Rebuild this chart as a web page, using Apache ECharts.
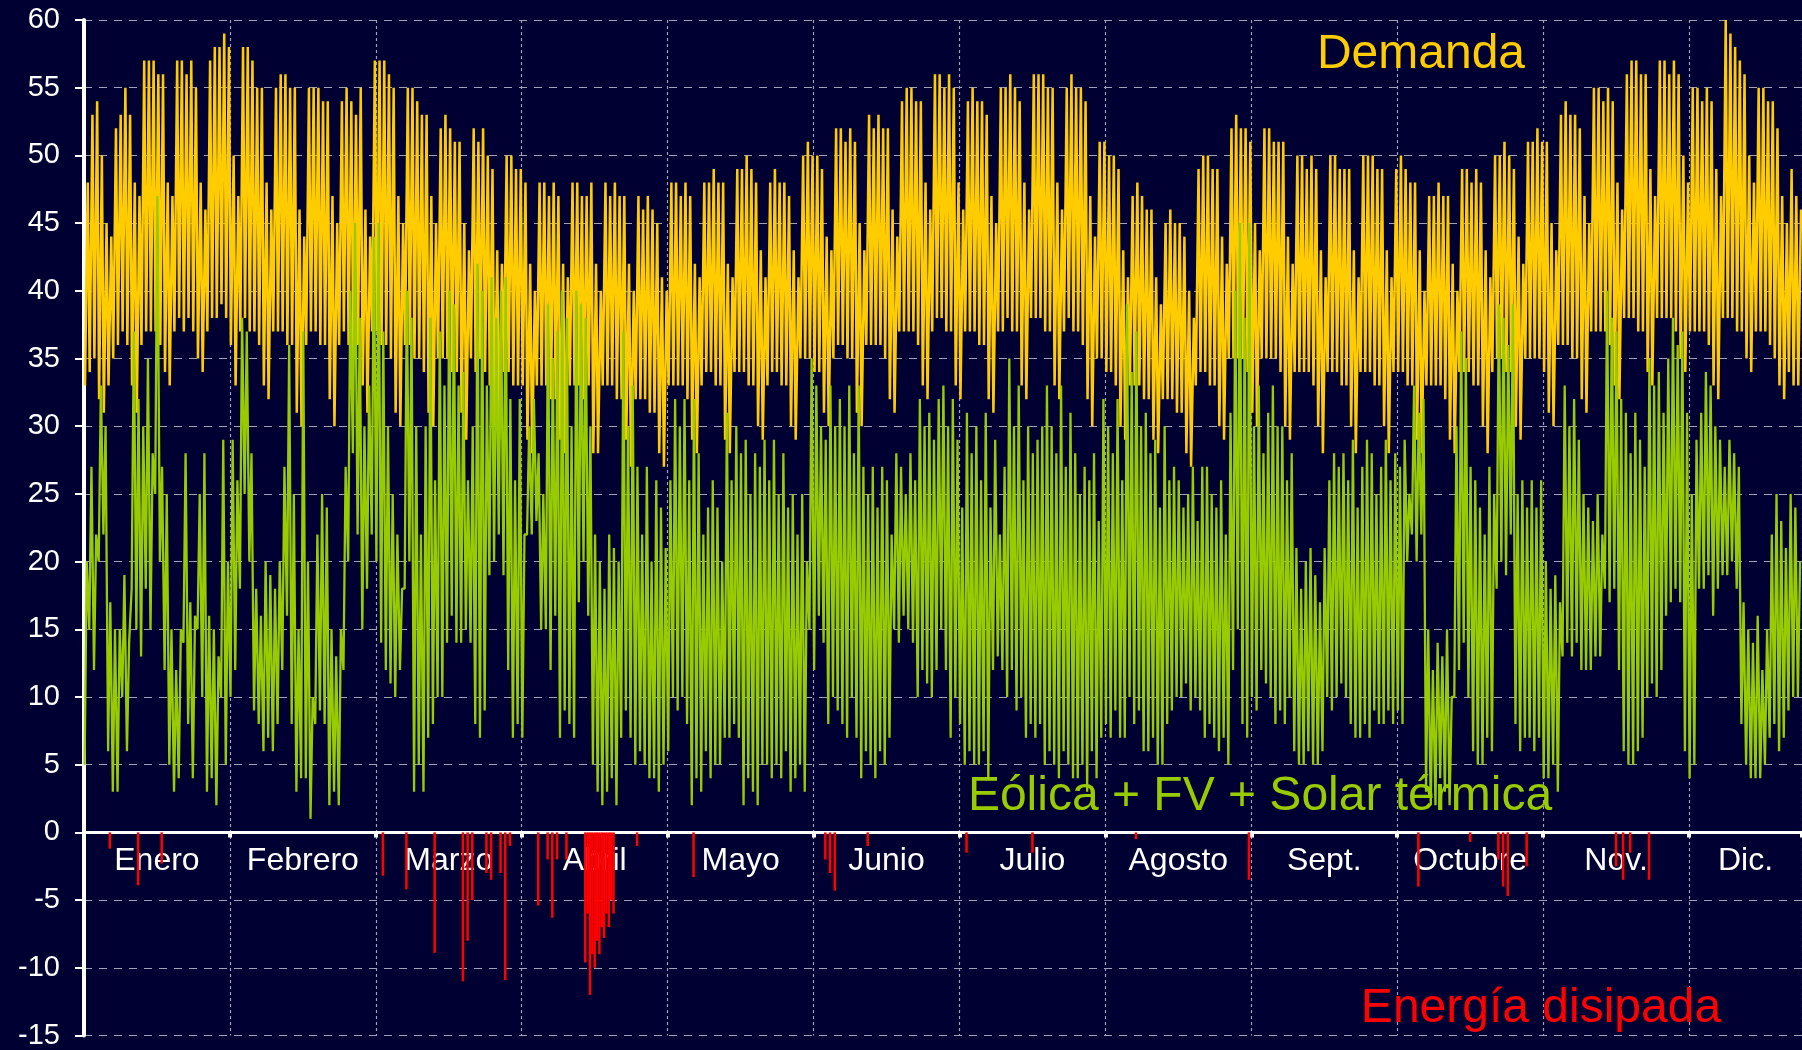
<!DOCTYPE html>
<html><head><meta charset="utf-8">
<script src="https://cdn.jsdelivr.net/npm/echarts@6.0.0/dist/echarts.min.js"></script>
<style>html,body{margin:0;padding:0;background:#000033;}#c{width:1802px;height:1050px;}</style>
</head><body><div id="c"></div>
<script>
// Month labels (axis grid every 744 h = 31 days)
const monthLabels = ['Enero','Febrero','Marzo','Abril','Mayo','Junio','Julio','Agosto','Sept.','Octubre','Nov.','Dic.'];

// Daily demand peak (GW), one value per day, rows of 7 days
const demandPeak = [
48,53,54,50,45,44,52, 53,55,53,48,47,57,57, 57,56,56,48,47,57,57, 56,57,55,48,46,57,58,
58,59,58,50,47,58,58, 57,55,55,48,46,55,56, 56,55,55,46,44,55,55, 55,54,54,47,45,54,55,
54,53,55,46,44,57,57, 57,56,55,47,45,55,55, 54,53,53,47,45,52,53, 52,51,51,45,43,52,51,
52,50,49,43,42,50,50, 49,49,48,42,40,48,48, 47,48,47,42,41,48,48, 47,47,48,42,40,48,47,
48,47,47,42,40,47,46, 47,46,45,41,40,48,48, 47,48,47,42,41,48,48, 49,48,48,42,41,49,49,
50,49,48,43,41,48,49, 48,48,47,43,41,50,51, 50,50,49,44,43,52,52, 51,52,51,45,43,53,52,
53,52,52,46,44,54,55, 55,54,54,48,46,56,56, 55,56,55,48,46,54,55, 54,54,53,47,45,55,55,
56,55,54,48,46,56,56, 56,55,55,48,46,55,56, 55,55,54,47,44,51,51, 50,50,49,43,41,47,48,
47,46,46,41,39,45,46, 45,45,44,40,38,49,50, 50,49,49,44,42,52,53, 52,52,51,45,43,52,52,
51,51,51,44,42,50,50, 49,50,49,43,41,50,50, 49,49,49,43,41,50,50, 50,49,49,43,41,49,50,
49,48,48,43,40,47,47, 48,47,47,42,40,49,49, 48,49,48,43,41,50,50, 51,50,49,44,42,51,51,
52,51,51,45,43,53,54, 53,53,52,47,45,55,55, 54,55,54,48,46,56,57, 57,56,56,49,47,57,57,
56,57,56,50,48,55,55, 54,55,54,49,47,60,59, 58,57,56,50,48,55,55, 54,54,52,47,45,49,47,
46
];
// Daily demand trough (GW)
const demandLow = [
33,34,35,32,31,33,35, 36,37,36,33,31,36,37, 37,37,36,34,33,37,38, 37,38,37,35,34,37,38,
38,39,38,36,33,37,38, 37,37,36,33,32,37,37, 37,36,36,31,30,36,37, 37,36,36,32,30,36,37,
36,35,36,33,31,37,37, 36,36,35,31,30,36,36, 35,35,34,31,30,35,35, 35,34,34,31,29,35,34,
35,34,33,30,29,34,34, 33,33,33,29,28,33,33, 33,32,32,29,28,33,33, 33,32,33,28,28,33,33,
33,32,32,29,27,32,32, 32,31,31,28,27,33,33, 33,33,32,29,28,33,34, 34,33,33,29,28,34,34,
34,33,33,30,29,33,34, 34,33,33,30,29,35,35, 35,34,34,31,30,35,36, 36,35,35,31,30,36,36,
36,36,35,32,31,37,37, 37,37,36,33,32,37,38, 38,37,37,33,32,37,37, 37,36,36,32,31,37,37,
38,37,37,33,32,38,38, 38,37,37,33,32,37,38, 37,37,36,32,30,35,35, 34,34,33,30,29,33,33,
33,32,32,29,28,32,32, 32,31,31,28,27,33,34, 34,33,33,30,29,35,35, 35,35,34,31,30,35,35,
35,35,34,30,29,34,34, 34,34,33,30,28,34,34, 34,33,33,30,28,34,34, 34,33,33,30,28,34,34,
34,33,33,29,28,33,33, 33,33,32,29,28,34,34, 34,33,33,30,28,34,35, 35,34,34,30,29,35,35,
35,35,34,31,30,36,36, 36,35,35,32,31,37,37, 37,37,36,33,32,38,38, 38,37,37,34,33,38,38,
38,38,37,35,34,37,37, 37,37,36,33,32,38,38, 38,37,37,35,34,37,37, 37,36,35,33,32,34,33,
33
];
// Daily wind + PV + solar thermal production: daily high and low (GW)
const renewHigh = [
20,27,22,33,30,17,15, 15,19,14,37,32,30,35, 28,47,27,25,15,12,15, 28,17,16,25,28,16,15,
13,29,20,29,26,38,37, 28,18,16,20,19,18,20, 27,36,25,15,37,20,10, 22,25,24,15,13,15,27,
40,45,38,30,33,44,45, 37,30,25,22,18,40,38, 30,22,30,38,26,37,33, 40,39,33,34,26,30,42,
40,33,41,38,40,41,32, 26,32,22,30,32,28,25, 39,35,37,40,38,30,40, 39,38,30,22,20,18,22,
21,20,37,30,33,27,22, 27,20,26,24,21,26,32, 30,32,26,32,28,22,24, 26,24,20,31,26,30,28,
29,25,28,27,29,26,29, 25,28,24,25,22,25,20, 35,33,30,29,33,30,32, 30,33,28,33,27,25,27,
24,27,26,22,28,27,25, 28,26,32,30,31,29,32, 33,30,32,29,24,31,28, 30,26,31,24,29,22,27,
35,30,33,26,30,28,29, 30,33,30,28,33,27,31, 28,25,27,26,28,23,32, 30,28,32,26,39,34,37,
30,31,28,29,24,30,26, 27,26,24,25,27,23,27, 27,25,24,26,22,31,40, 45,38,45,30,33,28,31,
33,30,30,26,28,21,18, 20,21,19,17,21,26,28, 27,28,26,29,24,27,29, 28,25,27,29,26,28,27,
29,25,33,31,32,15,12, 14,13,15,10,30,37,35, 27,26,24,22,27,25,39, 38,36,39,25,26,24,26,
24,26,20,18,19,17,33, 30,32,29,25,24,23,25, 22,40,38,37,32,31,28, 31,29,27,35,33,34,31,
35,38,36,37,31,25,29, 31,34,33,30,29,27,29, 28,27,17,15,14,16,12, 15,22,25,23,21,25,24,
20
];
const renewLow = [
5,15,12,20,22,6,3, 3,10,6,18,15,13,18, 15,25,20,12,5,3,4, 14,8,4,15,10,3,4,
2,10,5,10,12,18,25, 20,9,8,6,7,6,8, 12,16,8,3,4,4,1, 8,9,8,2,3,2,12,
20,28,22,15,18,22,20, 14,12,11,10,12,18,20, 3,5,3,7,8,10,10, 14,16,14,14,15,14,8,
7,9,19,20,22,19,12, 7,8,7,22,22,23,15, 15,12,16,7,9,8,7, 17,20,16,5,3,2,3,
4,2,7,9,7,5,6, 5,4,4,3,5,6,10, 9,10,8,2,4,3,6, 4,5,5,7,7,8,7,
2,4,3,2,5,5,4, 5,4,6,3,4,5,3, 15,12,16,14,8,10,9, 8,7,10,7,4,6,5,
4,6,5,7,15,14,16, 15,14,10,12,11,10,12, 15,12,7,10,8,5,6, 5,5,6,4,12,13,12,
10,12,9,10,7,8,7, 8,5,6,5,4,6,5, 4,4,5,3,6,4,7, 8,7,9,7,7,10,8,
9,6,6,7,5,5,8, 9,10,10,11,9,10,9, 7,8,7,6,7,5,12, 15,8,7,10,9,12,11,
10,8,9,8,10,6,5, 5,6,5,5,6,10,9, 10,11,10,8,7,7,8, 7,9,8,8,9,8,9,
8,20,22,20,22,3,2, 2,4,3,2,10,12,14, 10,6,5,5,7,6,18, 20,19,22,8,6,7,7,
6,7,4,4,5,3,13, 14,13,14,12,12,12,13, 13,18,17,18,12,6,5, 5,6,7,10,11,10,12,
16,17,18,17,6,4,5, 18,18,19,16,18,19,19, 20,18,8,5,4,4,4, 5,7,8,6,7,9,10,
10
];
// Dissipated energy (negative, GW): day of year and value
const dissipDay = [6,12,17,64,69,75,81,82,83,86,87,89,90,91,97,99,100,101,103,
  107,107.5,108,108.5,109,109.5,110,110.5,111,111.5,112,112.5,113,118,130,158,159,160,167,
  188,202,224,248,284,295,301,302,303,307,326,327.5,329,333];
const dissipVal = [-1.2,-3.9,-2.3,-3.2,-4.2,-8.9,-11,-8,-5,-3,-3.5,-3,-10.9,-1,-5.4,-2,-6.3,-2,-2,
  -9.6,-6,-12,-9,-10,-8,-9,-7,-7.8,-6,-7,-5,-6,-1,-3.3,-2,-3,-4.3,-1,
  -1.5,-1.5,-0.5,-3.5,-4,-0.7,-2,-4,-4.7,-2.5,-2.5,-3.5,-1.5,-3.5];

const HOURS = 8760, STEP = 744, YMIN = -15, YMAX = 60;
const GRID = {left: 84, right: 0, top: 20, bottom: 12};
const demandData = [], renewData = [];
for (let i = 0; i < demandPeak.length; i++) {
  demandData.push([i * 24 + 5, demandLow[i]]);
  demandData.push([i * 24 + 19, demandPeak[i]]);
  renewData.push([i * 24 + 3, renewLow[i]]);
  renewData.push([i * 24 + 14, renewHigh[i]]);
}
const dissipData = dissipDay.map((d, i) => [(d - 1) * 24 + 12, dissipVal[i]]);
const monthCenters = monthLabels.map((m, k) => (k * STEP + Math.min((k + 1) * STEP, HOURS)) / 2);

// distance from plot bottom up to the zero line, so the month labels sit under it
const plotH = 1050 - GRID.top - GRID.bottom;
const zeroUp = plotH * (0 - YMIN) / (YMAX - YMIN);

const FONT = '"Liberation Sans", Arial, sans-serif';
const chart = echarts.init(document.getElementById('c'), null, {renderer: 'canvas'});
chart.setOption({
  backgroundColor: '#000033',
  animation: false,
  grid: Object.assign({containLabel: false}, GRID),
  xAxis: [{
    type: 'value', min: 0, max: HOURS, interval: STEP,
    axisLine: {onZero: true, lineStyle: {color: '#ffffff', width: 3}},
    axisTick: {show: true, length: 5, inside: false, lineStyle: {color: '#ffffff', width: 4}},
    axisLabel: {show: false},
    splitLine: {show: true, lineStyle: {color: '#a0a0b8', width: 1.2, type: [3, 3]}}
  }, {
    type: 'value', min: 0, max: HOURS, position: 'bottom', offset: -zeroUp,
    axisLine: {show: false}, axisTick: {show: false}, splitLine: {show: false},
    axisLabel: {
      customValues: monthCenters, margin: 13,
      color: '#ffffff', fontFamily: FONT, fontSize: 32,
      formatter: v => monthLabels[monthCenters.indexOf(v)] || ''
    }
  }],
  yAxis: {
    type: 'value', min: YMIN, max: YMAX, interval: 5,
    axisLine: {show: true, lineStyle: {color: '#ffffff', width: 4}},
    axisTick: {show: true, length: 9, lineStyle: {color: '#ffffff', width: 2}},
    axisLabel: {color: '#ffffff', fontFamily: FONT, fontSize: 29, margin: 24},
    splitLine: {show: true, lineStyle: {color: '#a0a0b8', width: 1.2, type: [8, 7]}}
  },
  series: [
    {type: 'line', name: 'Demanda', data: demandData, showSymbol: false, z: 3,
     lineStyle: {color: '#FFCC00', width: 2.5}},
    {type: 'line', name: 'Renovables', data: renewData, showSymbol: false, z: 4,
     lineStyle: {color: '#99CC00', width: 2.3}},
    {type: 'bar', name: 'Energía disipada', data: dissipData, barWidth: 2.5, z: 5,
     itemStyle: {color: '#FF0000'}}
  ],
  graphic: [
    {type: 'text', z: 10, style: {text: 'Demanda', x: 1421, y: 55, align: 'center', verticalAlign: 'middle',
      fill: '#FFCC00', font: '48px ' + FONT}},
    {type: 'text', z: 10, style: {text: 'Eólica + FV + Solar térmica', x: 1260, y: 797, align: 'center', verticalAlign: 'middle',
      fill: '#99CC00', font: '48px ' + FONT}},
    {type: 'text', z: 10, style: {text: 'Energía disipada', x: 1541, y: 1009, align: 'center', verticalAlign: 'middle',
      fill: '#FF0000', font: '48px ' + FONT}}
  ]
});
</script>
</body></html>
